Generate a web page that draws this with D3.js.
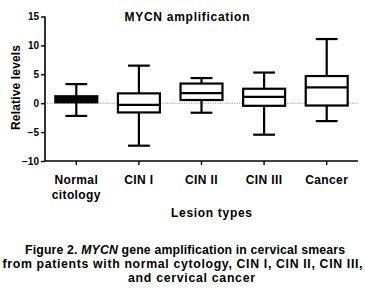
<!DOCTYPE html>
<html>
<head>
<meta charset="utf-8">
<script src="https://cdn.jsdelivr.net/npm/d3@7"></script>
<style>
  body { margin: 0; background: #fff; }
  svg { display: block; font-family: "Liberation Sans", Arial, sans-serif; }
</style>
</head>
<body>
<div id="general"></div>
<script>
const w = 365, h = 290;

// values
const groups = ["Normal citology", "CIN I", "CIN II", "CIN III", "Cancer"];
const whiskerLow = [-2.2, -7.35, -1.65, -5.45, -3.1];
const q1 = [0.15, -1.6, 0.55, -0.45, -0.4];
const median = [0.6, -0.3, 1.75, 1.1, 2.75];
const q3 = [1.2, 1.7, 3.4, 2.5, 4.7];
const whiskerHigh = [3.3, 6.5, 4.35, 5.3, 11.1];
const yTicks = [-10, -5, 0, 5, 10, 15];

const m = {l: 45, r: 7, t: 16.5, b: 129};

const svg = d3.select("#general").append("svg")
  .attr("width", w)
  .attr("height", h)
  .attr("viewBox", [0, 0, w, h]);

const x = d3.scaleBand().domain(groups).range([m.l, w - m.r]).paddingInner(0.33).paddingOuter(0.165);
const y = d3.scaleLinear().domain([-10, 15]).range([h - m.b, m.t]);

const data = groups.map((g, i) => ({
  g, lo: whiskerLow[i], q1: q1[i], med: median[i], q3: q3[i], hi: whiskerHigh[i]
}));

// zero reference line
svg.append("line")
  .attr("x1", m.l + 2).attr("x2", w - m.r)
  .attr("y1", y(0)).attr("y2", y(0))
  .attr("stroke", "#999")
  .attr("stroke-width", 1)
  .attr("stroke-dasharray", "1.2,1.2");

// axes
const yAxis = svg.append("g")
  .attr("transform", `translate(${m.l},0)`)
  .call(d3.axisLeft(y).tickValues(yTicks).tickSize(4).tickPadding(2));
const xAxis = svg.append("g")
  .attr("transform", `translate(0,${y(-10)})`)
  .call(d3.axisBottom(x).tickSize(4).tickFormat(""));

[yAxis, xAxis].forEach(a => {
  a.select(".domain").attr("stroke", "#000").attr("stroke-width", 1.6);
  a.selectAll(".tick line").attr("stroke", "#000").attr("stroke-width", 1.4);
});
xAxis.select(".domain").attr("d", `M${m.l},0H${w - m.r}`);
yAxis.select(".domain").attr("d", `M0,${y(-10)}V${y(15)}`);
yAxis.selectAll(".tick text")
  .attr("fill", "#000")
  .style("font-size", "10px")
  .style("font-weight", "bold");

// boxes
const bw = x.bandwidth();
const capW = bw * 0.52;
const gBox = svg.append("g")
  .attr("stroke", "#000")
  .attr("stroke-width", 2.2);

const box = gBox.selectAll("g")
  .data(data)
  .join("g")
    .attr("transform", d => `translate(${x(d.g)},0)`);

box.append("line")
  .attr("x1", bw / 2).attr("x2", bw / 2)
  .attr("y1", d => y(d.hi)).attr("y2", d => y(d.lo));
box.append("line")
  .attr("x1", bw / 2 - capW / 2).attr("x2", bw / 2 + capW / 2)
  .attr("y1", d => y(d.hi)).attr("y2", d => y(d.hi));
box.append("line")
  .attr("x1", bw / 2 - capW / 2).attr("x2", bw / 2 + capW / 2)
  .attr("y1", d => y(d.lo)).attr("y2", d => y(d.lo));
box.append("rect")
  .attr("x", 0).attr("width", bw)
  .attr("y", d => y(d.q3))
  .attr("height", d => y(d.q1) - y(d.q3))
  .attr("fill", d => (y(d.q1) - y(d.q3)) < 8 ? "#000" : "#fff");
box.append("line")
  .attr("x1", 0).attr("x2", bw)
  .attr("y1", d => y(d.med)).attr("y2", d => y(d.med));

// category labels
const lab = svg.append("g")
  .style("font-size", "12px")
  .style("font-weight", "bold")
  .style("letter-spacing", "0.4px")
  .attr("text-anchor", "middle");
lab.selectAll("text")
  .data(groups)
  .join("text")
    .attr("x", d => x(d) + bw / 2)
    .attr("y", 184)
    .each(function(d) {
      const words = d === "Normal citology" ? ["Normal", "citology"] : [d];
      d3.select(this).selectAll("tspan")
        .data(words)
        .join("tspan")
          .attr("x", x(d) + bw / 2)
          .attr("dy", (_, i) => i ? 15 : 0)
          .text(t => t);
    });

// titles
svg.append("text")
  .attr("x", 187).attr("y", 21)
  .attr("text-anchor", "middle")
  .attr("textLength", 125).attr("lengthAdjust", "spacing")
  .style("font-size", "12px").style("font-weight", "bold")
  .text("MYCN amplification");

svg.append("text")
  .attr("transform", `translate(20,87.5) rotate(-90)`)
  .attr("text-anchor", "middle")
  .attr("textLength", 85).attr("lengthAdjust", "spacing")
  .style("font-size", "12px").style("font-weight", "bold")
  .text("Relative levels");

svg.append("text")
  .attr("x", 211.5).attr("y", 217)
  .attr("text-anchor", "middle")
  .attr("textLength", 81).attr("lengthAdjust", "spacing")
  .style("font-size", "12px").style("font-weight", "bold")
  .text("Lesion types");

// caption
const capStyle = t => t.attr("text-anchor", "middle")
  .attr("lengthAdjust", "spacing")
  .style("font-size", "12.3px").style("font-weight", "bold");

const l1 = svg.append("text").call(capStyle)
  .attr("x", 185).attr("y", 253.5).attr("textLength", 320);
l1.append("tspan").text("Figure 2. ");
l1.append("tspan").style("font-style", "italic").text("MYCN");
l1.append("tspan").text(" gene amplification in cervical smears");

svg.append("text").call(capStyle)
  .attr("x", 182.5).attr("y", 267.5).attr("textLength", 360)
  .text("from patients with normal cytology, CIN I, CIN II, CIN III,");
svg.append("text").call(capStyle)
  .attr("x", 191.5).attr("y", 281.5).attr("textLength", 127)
  .text("and cervical cancer");
</script>
</body>
</html>
